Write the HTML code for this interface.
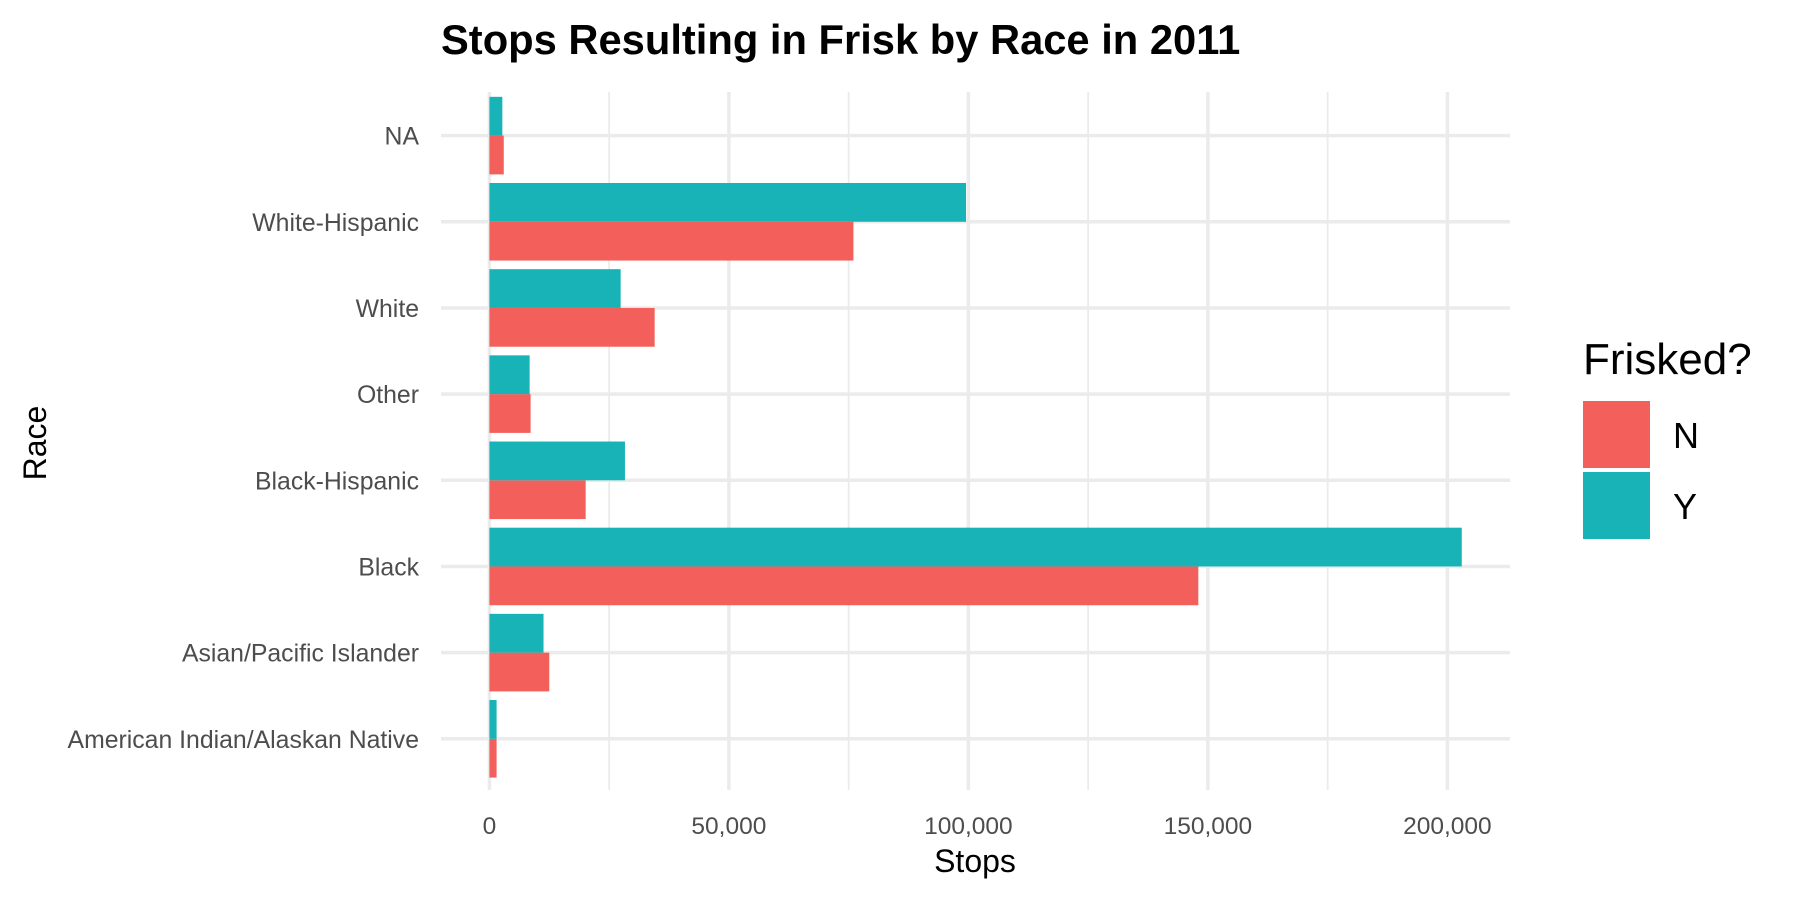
<!DOCTYPE html>
<html><head><meta charset="utf-8"><style>
html,body{margin:0;padding:0;background:#fff;}
svg text{font-family:"Liberation Sans",sans-serif;}
</style></head><body>
<svg width="1800" height="900" xmlns="http://www.w3.org/2000/svg">
<g id="grid"></g>
<g id="bars"></g>
<g id="axes"></g>
<text x="441" y="54" font-size="41.7" font-weight="bold" fill="#000">Stops Resulting in Frisk by Race in 2011</text>
<text x="975" y="872" font-size="32" text-anchor="middle" fill="#000">Stops</text>
<text transform="translate(46,443) rotate(-90)" font-size="32" text-anchor="middle" fill="#000">Race</text>
<g>
<text x="1583" y="374" font-size="44" fill="#000">Frisked?</text>
<rect x="1583" y="401" width="67" height="67" fill="#F35F5B"/>
<text x="1673" y="448" font-size="36" fill="#000">N</text>
<rect x="1583" y="472" width="67" height="67" fill="#18B3B7"/>
<text x="1673" y="519" font-size="36" fill="#000">Y</text>
</g>
</svg>
<script>
const categories = ["American Indian/Alaskan Native","Asian/Pacific Islander","Black","Black-Hispanic","Other","White","White-Hispanic","NA"];
const valuesN = [1500,12500,148000,20100,8600,34500,76000,3000];
const valuesY = [1500,11300,203000,28300,8400,27400,99500,2700];
const xTicks = [0,50000,100000,150000,200000];
const xTickLabels = ["0","50,000","100,000","150,000","200,000"];
const NS="http://www.w3.org/2000/svg";
const x0=489.4, pxPer=(1447.4-489.4)/200000;
function xs(v){return x0+v*pxPer;}
const step=86.17, yBottom=738.8;
function yc(i){return yBottom-i*step;}
const panelL=441, panelR=1510, panelT=92, panelB=790;
function mk(tag,attrs,parent){const e=document.createElementNS(NS,tag);for(const k in attrs)e.setAttribute(k,attrs[k]);parent.appendChild(e);return e;}
const grid=document.getElementById('grid'), bars=document.getElementById('bars'), axes=document.getElementById('axes');
for(let k=0;k<xTicks.length;k++){
  const x=xs(xTicks[k]);
  const l=mk('line',{x1:x,x2:x,y1:panelT,y2:panelB,stroke:'#ebebeb','stroke-width':3.5},grid);
  
  
  if(k<xTicks.length-1){
    const xm=xs((xTicks[k]+xTicks[k+1])/2);
    const m=mk('line',{x1:xm,x2:xm,y1:panelT,y2:panelB,stroke:'#ebebeb','stroke-width':1.8},grid);
    
    
  }
  const t=mk('text',{x:x,y:834,'font-size':24.5,'text-anchor':'middle',fill:'#4d4d4d'},axes);
  t.textContent=xTickLabels[k];
  
  
}
const bw=step*0.45;
categories.forEach((c,i)=>{
  const y=yc(i);
  const g=mk('line',{x1:panelL,x2:panelR,y1:y,y2:y,stroke:'#ebebeb','stroke-width':3.5},grid);
  
  
  const bn=mk('rect',{x:xs(0),y:y,width:xs(valuesN[i])-xs(0),height:bw,fill:'#F35F5B'},bars);
  
  
  const by=mk('rect',{x:xs(0),y:y-bw,width:xs(valuesY[i])-xs(0),height:bw,fill:'#18B3B7'},bars);
  
  
  const t=mk('text',{x:419,y:y+9,'font-size':24.8,'text-anchor':'end',fill:'#4d4d4d'},axes);
  t.textContent=c;
  
  
});
</script>
</body></html>
